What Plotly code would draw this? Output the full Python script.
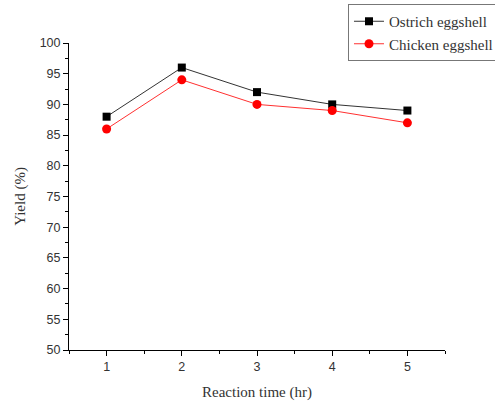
import plotly.graph_objects as go

reaction_time = [1, 2, 3, 4, 5]
ostrich_yield = [88, 96, 92, 90, 89]
chicken_yield = [86, 94, 90, 89, 87]

fig = go.Figure()
fig.add_trace(go.Scatter(
    x=reaction_time, y=ostrich_yield, name="Ostrich eggshell",
    mode="lines+markers",
    line=dict(color="#333333", width=1),
    marker=dict(symbol="square", size=8, color="black"),
))
fig.add_trace(go.Scatter(
    x=reaction_time, y=chicken_yield, name="Chicken eggshell",
    mode="lines+markers",
    line=dict(color="#ff3030", width=1),
    marker=dict(symbol="circle", size=9, color="red"),
))

tick_font = dict(family="Liberation Sans, Arial", size=12.5, color="#333333")
title_font = dict(family="Liberation Serif, Times New Roman", size=15, color="#333333")

fig.update_layout(
    width=495, height=401,
    margin=dict(l=69, r=50, t=43, b=51, autoexpand=False),
    paper_bgcolor="white", plot_bgcolor="white",
    showlegend=True,
    legend=dict(
        x=0.742, y=1.127, xanchor="left", yanchor="top",
        bgcolor="white", bordercolor="#777777", borderwidth=1,
        font=dict(family="Liberation Serif, Times New Roman", size=15, color="#333333"),
        tracegroupgap=0, itemwidth=30,
    ),
    xaxis=dict(
        range=[0.5, 5.5], tickmode="array", tickvals=reaction_time,
        showgrid=False, zeroline=False, showline=True, linecolor="black", linewidth=1,
        ticks="outside", ticklen=5, tickcolor="black", tickfont=tick_font,
        minor=dict(tickvals=[0.5, 1.5, 2.5, 3.5, 4.5, 5.5], ticks="outside", ticklen=3, tickcolor="black"),
        title=dict(text="Reaction time (hr)", font=title_font, standoff=14),
        automargin=False,
    ),
    yaxis=dict(
        range=[50, 100], tickmode="linear", tick0=50, dtick=5,
        showgrid=False, zeroline=False, showline=True, linecolor="black", linewidth=1,
        ticks="outside", ticklen=5, tickcolor="black", tickfont=tick_font,
        minor=dict(dtick=2.5, ticks="outside", ticklen=3, tickcolor="black"),
        title=dict(text="Yield (%)", font=title_font, standoff=10),
        automargin=False,
    ),
)

fig.write_html("out.html", config={"displayModeBar": False},
               post_script="document.body.style.margin='0';")
